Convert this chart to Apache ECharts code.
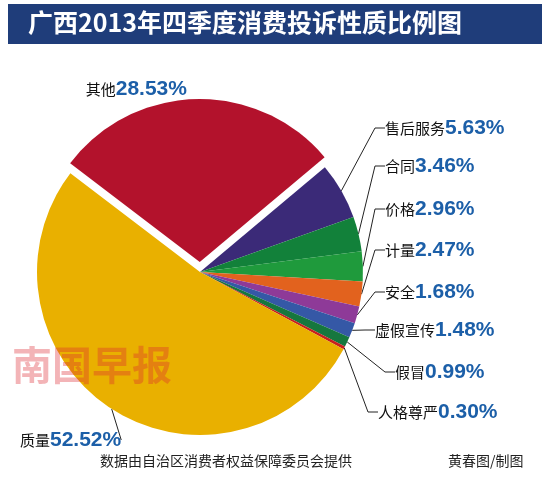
<!DOCTYPE html>
<html><head><meta charset="utf-8">
<script src="https://cdn.jsdelivr.net/npm/echarts@6/dist/echarts.min.js"></script>
<style>html,body{margin:0;padding:0;background:#fff}#c{width:550px;height:483px}</style>
</head><body><div id="c"></div>
<script>
// data
const names = ['售后服务', '合同', '价格', '计量', '安全', '虚假宣传', '假冒', '人格尊严', '质量', '其他'];
const values = [5.63, 3.46, 2.96, 2.47, 1.68, 1.48, 0.99, 0.30, 52.52, 28.53];
const colors = ['#3b2a78', '#12813a', '#1f9a3c', '#e2621e', '#8e3a98', '#3558a6', '#16773e', '#c8201e', '#e9b000', '#b3122c'];
// label anchors (layout)
const labelPos = [
    [385, 128], [385, 166], [385, 209], [385, 250], [385, 292],
    [375, 330], [395, 372], [378, 412], [20, 440], [85, 88]
];

const chart = echarts.init(document.getElementById('c'));
chart.setOption({
    animation: false,
    graphic: [
        { type: 'rect', shape: { x: 8, y: 4, width: 534, height: 40 }, style: { fill: '#1f3d7a' } },
        { type: 'text', left: 28, top: 10, style: { text: '广西2013年四季度消费投诉性质比例图', fill: '#fff', font: 'bold 25px "Noto Sans CJK SC"' } },
        { type: 'text', left: 12, top: 345, z: 10, style: { text: '南国早报', fill: 'rgba(220,40,50,0.35)', font: 'bold 40px "Noto Sans CJK SC"' } },
        { type: 'text', left: 100, top: 454, style: { text: '数据由自治区消费者权益保障委员会提供', fill: '#222', font: '14px "Noto Sans CJK SC"' } },
        { type: 'text', left: 448, top: 454, style: { text: '黄春图/制图', fill: '#222', font: '14px "Noto Sans CJK SC"' } }
    ],
    series: [{
        type: 'pie',
        center: [200, 272],
        radius: [0, 163],
        startAngle: 40,
        clockwise: true,
        selectedMode: 'multiple',
        selectedOffset: 10,
        data: names.map((n, i) => ({
            name: n, value: values[i], selected: i === 9,
            itemStyle: { color: colors[i] },
            labelLine: { show: i !== 9 }
        })),
        label: {
            overflow: 'none',
            bleedMargin: 0,
            formatter: p => '{n|' + p.name + '}{v|' + p.value.toFixed(2) + '%}',
            rich: {
                n: { fontSize: 15, color: '#111', fontFamily: 'Noto Sans CJK SC' },
                v: { fontSize: 21, fontWeight: 'bold', color: '#1c5fa8', fontFamily: 'Liberation Sans' }
            }
        },
        labelLine: { show: true, lineStyle: { color: '#222', width: 1 }, length: 10, length2: 10 },
        labelLayout: p => {
            const r = {
                x: labelPos[p.dataIndex][0],
                y: labelPos[p.dataIndex][1],
                align: 'left',
                verticalAlign: 'middle',
                width: 200,
                hideOverlap: false
            };
            if (p.dataIndex === 9) r.dx = -95;
            return r;
        }
    }]
});
</script></body></html>
